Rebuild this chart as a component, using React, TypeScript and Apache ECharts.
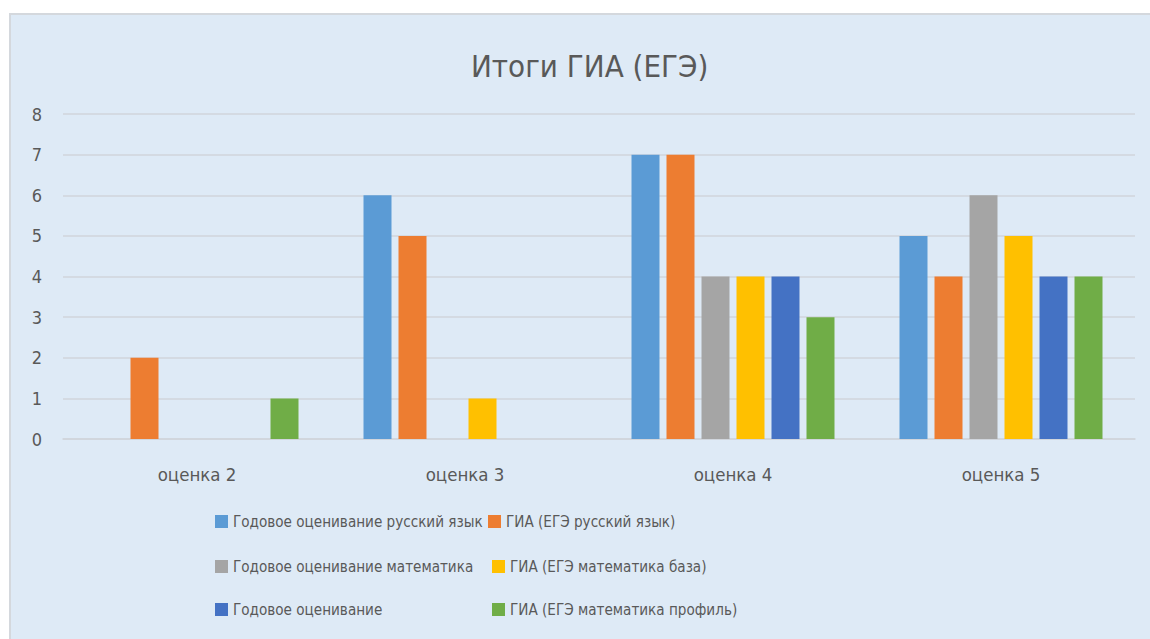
import React, { useEffect, useRef } from "react";
import * as echarts from "echarts";

const categories = ["оценка 2", "оценка 3", "оценка 4", "оценка 5"];
const seriesNames = [
  "Годовое оценивание русский язык",
  "ГИА (ЕГЭ русский язык)",
  "Годовое оценивание математика",
  "ГИА (ЕГЭ математика база)",
  "Годовое оценивание",
  "ГИА (ЕГЭ математика профиль)",
];
const rusYear = [0, 6, 7, 5];
const rusGia = [2, 5, 7, 4];
const mathYear = [0, 0, 4, 6];
const mathBase = [0, 1, 4, 5];
const yearOther = [0, 0, 4, 4];
const mathProfile = [1, 0, 3, 4];
const seriesValues = [rusYear, rusGia, mathYear, mathBase, yearOther, mathProfile];
const colors = ["#5B9BD5", "#ED7D31", "#A5A5A5", "#FFC000", "#4472C4", "#70AD47"];

const legendPos = [
  { left: 215, top: 514 },
  { left: 488, top: 514 },
  { left: 215, top: 559 },
  { left: 492, top: 559 },
  { left: 215, top: 602 },
  { left: 492, top: 602 },
];

const FONT = "'DejaVu Sans Condensed', 'Noto Sans', sans-serif";

export default function App() {
  const ref = useRef<HTMLDivElement>(null);
  useEffect(() => {
    document.body.style.margin = "0";
    const chart = echarts.init(ref.current!, null, { renderer: "svg" });
    chart.setOption({
      animation: false,
      backgroundColor: "#ffffff",
      graphic: [
        {
          type: "rect",
          shape: { x: 10, y: 14, width: 1150, height: 640 },
          style: { fill: "#DEEAF6", stroke: "#D4D8DD", lineWidth: 2 },
          z: -10,
        },
      ],
      title: {
        text: "Итоги ГИА (ЕГЭ)",
        left: 466,
        top: 45,
        textStyle: { fontFamily: FONT, fontSize: 31, fontWeight: "normal", color: "#595959" },
      },
      legend: seriesNames.map((n, i) => ({
        data: [n],
        left: legendPos[i].left,
        top: legendPos[i].top,
        itemWidth: 13,
        itemHeight: 13,
        itemGap: 0,
        icon: "rect",
        textStyle: { fontFamily: FONT, fontSize: 15.1, color: "#595959" },
        padding: 0,
        selectedMode: false,
      })),
      grid: { left: 63, right: 15, top: 114, bottom: 200, containLabel: false },
      xAxis: {
        type: "category",
        data: categories,
        axisTick: { show: false },
        axisLine: { lineStyle: { color: "#D0D5DB", width: 1.5 } },
        axisLabel: { fontFamily: FONT, fontSize: 18.5, color: "#595959", margin: 26 },
      },
      yAxis: {
        type: "value",
        min: 0,
        max: 8,
        interval: 1,
        axisLine: { show: false },
        axisTick: { show: false },
        splitLine: { lineStyle: { color: "#D0D5DB", width: 1.5 } },
        axisLabel: { fontFamily: FONT, fontSize: 18, color: "#595959", margin: 21 },
      },
      series: seriesNames.map((n, i) => ({
        name: n,
        type: "bar",
        data: seriesValues[i],
        barWidth: 28,
        barGap: "25%",
        itemStyle: { color: colors[i] },
      })),
    });
    return () => chart.dispose();
  }, []);
  return <div ref={ref} style={{ width: 1150, height: 639 }} />;
}
